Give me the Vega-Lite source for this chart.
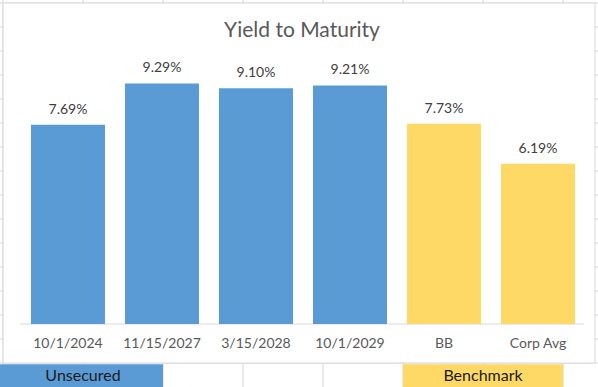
{
  "$schema": "https://vega.github.io/schema/vega-lite/v6.json",
  "width": 598,
  "height": 387,
  "autosize": {"type": "none"},
  "padding": 0,
  "background": "white",
  "config": {"view": {"stroke": null}, "font": "Lato"},
  "title": {"text": "Yield to Maturity", "anchor": "middle", "offset": -41, "dx": 3, "fontSize": 21, "fontWeight": "normal", "color": "#595959", "font": "Lato"},
  "datasets": {
    "bars": [
      {"label": "10/1/2024", "ytm": 7.69, "group": "Unsecured", "text": "7.69%"},
      {"label": "11/15/2027", "ytm": 9.29, "group": "Unsecured", "text": "9.29%"},
      {"label": "3/15/2028", "ytm": 9.10, "group": "Unsecured", "text": "9.10%"},
      {"label": "10/1/2029", "ytm": 9.21, "group": "Unsecured", "text": "9.21%"},
      {"label": "BB", "ytm": 7.73, "group": "Benchmark", "text": "7.73%"},
      {"label": "Corp Avg", "ytm": 6.19, "group": "Benchmark", "text": "6.19%"}
    ],
    "vlines": [{"c": 0}, {"c": 1}, {"c": 2}, {"c": 3}, {"c": 4}, {"c": 5}, {"c": 6}, {"c": 7}],
    "hlines": [{"r": 0}, {"r": 1}, {"r": 2}, {"r": 3}, {"r": 4}, {"r": 5}, {"r": 6}, {"r": 7}, {"r": 8}, {"r": 9}, {"r": 10}, {"r": 11}, {"r": 12}, {"r": 13}, {"r": 14}, {"r": 15}],
    "cells": [
      {"c1": -1, "c2": 2, "cm": 1, "name": "Unsecured"},
      {"c1": 5, "c2": 7, "cm": 6, "name": "Benchmark"}
    ]
  },
  "resolve": {"scale": {"x": "independent", "y": "independent"}, "axis": {"x": "independent", "y": "independent"}},
  "layer": [
    {
      "layer": [
        {
          "data": {"name": "vlines"},
          "mark": {"type": "rule", "color": "#D4D4D4", "strokeWidth": 1},
          "encoding": {
            "x": {"field": "c", "type": "quantitative", "scale": {"domain": [-0.0375, 7.4375], "nice": false, "zero": false}, "axis": null}
          }
        },
        {
          "data": {"name": "hlines"},
          "mark": {"type": "rule", "color": "#D4D4D4", "strokeWidth": 1},
          "encoding": {
            "y": {"field": "r", "type": "quantitative", "scale": {"domain": [-0.125, 16], "nice": false, "zero": false, "reverse": true}, "axis": null}
          }
        },
        {
          "data": {"values": [{"c1": 0, "c2": 7.4, "r1": 0, "r2": 15}]},
          "mark": {"type": "rect", "fill": "white", "stroke": "#D9D9D9", "strokeWidth": 1},
          "encoding": {
            "x": {"field": "c1", "type": "quantitative"},
            "x2": {"field": "c2"},
            "y": {"field": "r1", "type": "quantitative"},
            "y2": {"field": "r2"}
          }
        },
        {
          "data": {"values": [{"c1": 0.2125, "c2": 7.2625, "r": 13.375}]},
          "mark": {"type": "rule", "color": "#D9D9D9", "strokeWidth": 1},
          "encoding": {
            "x": {"field": "c1", "type": "quantitative"},
            "x2": {"field": "c2"},
            "y": {"field": "r", "type": "quantitative"}
          }
        },
        {
          "data": {"name": "cells"},
          "mark": {"type": "rect", "clip": true},
          "encoding": {
            "x": {"field": "c1", "type": "quantitative"},
            "x2": {"field": "c2"},
            "y": {"datum": 15.05, "type": "quantitative"},
            "y2": {"datum": 16},
            "color": {"field": "name", "type": "nominal", "scale": {"domain": ["Unsecured", "Benchmark"], "range": ["#5B9BD5", "#FFD966"]}, "legend": null}
          }
        },
        {
          "data": {"name": "cells"},
          "mark": {"type": "text", "fontSize": 16, "color": "#1A1A1A", "baseline": "middle", "align": "center", "font": "Lato"},
          "encoding": {
            "x": {"field": "cm", "type": "quantitative"},
            "y": {"datum": 15.55, "type": "quantitative"},
            "text": {"field": "name"}
          }
        }
      ]
    },
    {
      "data": {"name": "bars"},
      "encoding": {
        "x": {"field": "label", "type": "nominal", "sort": null,
          "scale": {"paddingInner": 0.2128, "paddingOuter": 0.287, "align": 0.574},
          "axis": {"orient": "bottom", "offset": -63, "zindex": 1, "domain": false, "ticks": false, "labelPadding": 12, "labelFontSize": 14, "labelColor": "#595959", "labelFont": "Lato", "labelAngle": 0, "title": null}},
        "y": {"field": "ytm", "type": "quantitative", "scale": {"domain": [-2.432, 12.51], "nice": false, "zero": false}, "axis": null}
      },
      "layer": [
        {
          "mark": {"type": "bar"},
          "encoding": {
            "y": {"field": "ytm", "type": "quantitative"},
            "y2": {"datum": 0},
            "color": {"field": "group", "type": "nominal", "scale": {"domain": ["Unsecured", "Benchmark"], "range": ["#5B9BD5", "#FFD966"]}, "legend": null}
          }
        },
        {
          "mark": {"type": "text", "baseline": "bottom", "dy": -8, "fontSize": 14, "color": "#404040", "font": "Lato"},
          "encoding": {"text": {"field": "text"}}
        }
      ]
    }
  ]
}
